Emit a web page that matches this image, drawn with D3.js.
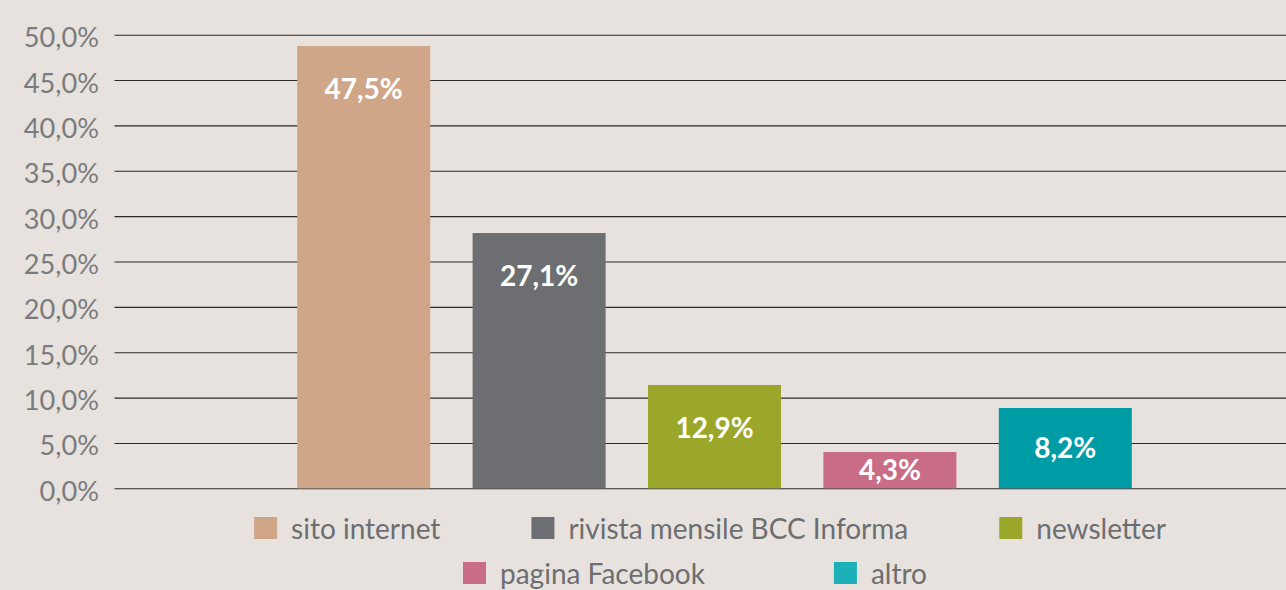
<!DOCTYPE html>
<html>
<head>
<meta charset="utf-8">
<script src="https://cdn.jsdelivr.net/npm/d3@7"></script>
<style>
  html, body { margin: 0; padding: 0; background: #e7e2de; }
  svg { display: block; }
</style>
</head>
<body>
<svg id="chart" width="1286" height="590"></svg>
<script>
// ---- data ----
const categories = ["sito internet", "rivista mensile BCC Informa", "newsletter", "pagina Facebook", "altro"];
const values = [48.75, 28.14, 11.39, 4.0, 8.85];           // bar heights as drawn (%)
const valueLabels = ["47,5%", "27,1%", "12,9%", "4,3%", "8,2%"];
const tickValues = [0, 5, 10, 15, 20, 25, 30, 35, 40, 45, 50];
const barColors = ["#cfa687", "#6d6e71", "#9aa72a", "#c96d86", "#009ca6"];
const legendColors = ["#cfa687", "#6d6e71", "#9aa72a", "#c96d86", "#1db0b9"];
const legendRows = [[0, 1, 2], [3, 4]];

// ---- layout ----
const W = 1286, H = 590;
const svg = d3.select("#chart");
svg.append("rect").attr("width", W).attr("height", H).attr("fill", "#e7e2de");

const y = d3.scaleLinear().domain([0, 50]).range([488.3, 34.7]);
const x = d3.scaleBand().domain(categories).range([276, 1153])
  .paddingInner(0.2416).paddingOuter(0.1208);

const fmt = d => d.toFixed(1).replace(".", ",") + "%";

// gridlines + y labels
const yAxis = d3.axisLeft(y).tickValues(tickValues).tickFormat(fmt)
  .tickSize(-(W - 114.5)).tickPadding(15.5);
const gAxis = svg.append("g").attr("transform", "translate(114.5,0)").call(yAxis);
gAxis.select(".domain").remove();
gAxis.selectAll(".tick line").attr("stroke", "#2a2a2a").attr("stroke-width", 1.1);
gAxis.selectAll(".tick text")
  .attr("font-family", "Lato, sans-serif").attr("font-size", 27.2)
  .attr("fill", "#7a7b7d").attr("dy", "0.44em");

// bars
svg.append("g").selectAll("rect").data(categories).join("rect")
  .attr("x", d => x(d))
  .attr("width", x.bandwidth())
  .attr("y", (d, i) => y(values[i]))
  .attr("height", (d, i) => y(0) - y(values[i]))
  .attr("fill", (d, i) => barColors[i]);

// value labels
svg.append("g").selectAll("text").data(categories).join("text")
  .attr("x", d => x(d) + x.bandwidth() / 2)
  .attr("y", (d, i) => {
    const top = y(values[i]);
    return Math.min(top + 53, (top + y(0)) / 2 + 10);
  })
  .attr("text-anchor", "middle")
  .attr("font-family", "Lato, sans-serif").attr("font-weight", "bold")
  .attr("font-size", 28).attr("fill", "#ffffff")
  .text((d, i) => valueLabels[i]);

// legend
const legend = svg.append("g");
const rowY = [528.5, 573.5];
const rowCenter = [710, 695];
const rowGap = [91, 129];
const sq = 23, sqGap = 14;
legendRows.forEach((row, r) => {
  const items = row.map(i => {
    const g = legend.append("g");
    g.append("rect").attr("width", sq).attr("height", sq - 1)
      .attr("y", -sq / 2).attr("fill", legendColors[i]);
    const t = g.append("text").attr("x", sq + sqGap).attr("y", 10.5)
      .attr("font-family", "Lato, sans-serif").attr("font-size", 28)
      .attr("fill", "#6d6e71").text(categories[i]);
    const w = sq + sqGap + t.node().getComputedTextLength();
    return { g, w };
  });
  const total = d3.sum(items, d => d.w) + rowGap[r] * (items.length - 1);
  let cx = rowCenter[r] - total / 2;
  items.forEach(it => {
    it.g.attr("transform", `translate(${cx},${rowY[r]})`);
    cx += it.w + rowGap[r];
  });
});
</script>
</body>
</html>
